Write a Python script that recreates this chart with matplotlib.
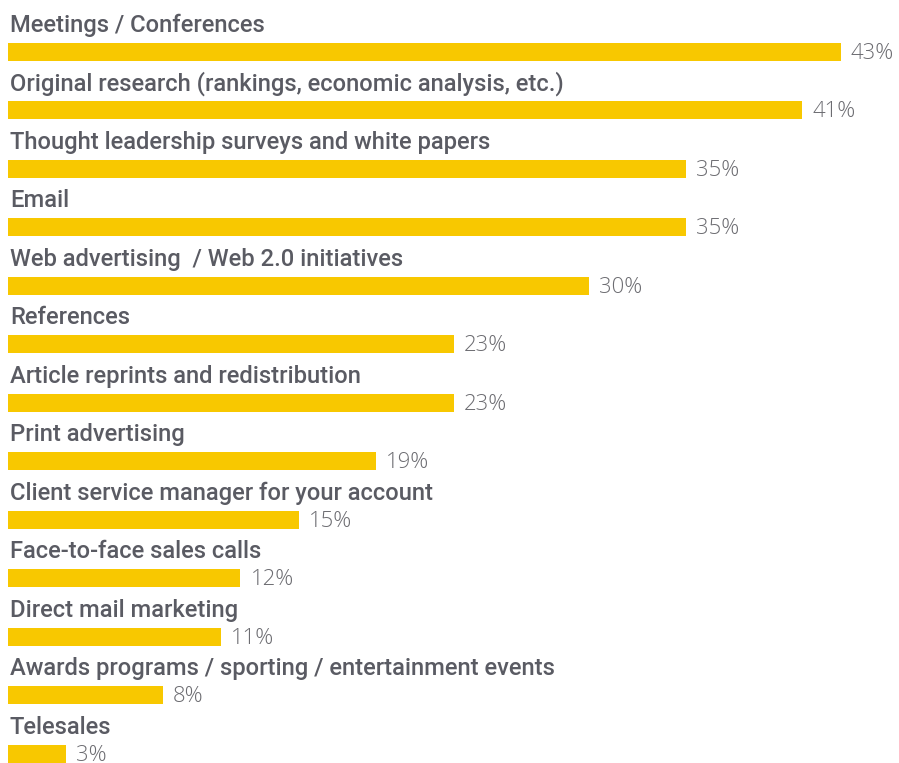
import matplotlib.pyplot as plt

categories = [
    "Meetings / Conferences",
    "Original research (rankings, economic analysis, etc.)",
    "Thought leadership surveys and white papers",
    "Email",
    "Web advertising  / Web 2.0 initiatives",
    "References",
    "Article reprints and redistribution",
    "Print advertising",
    "Client service manager for your account",
    "Face-to-face sales calls",
    "Direct mail marketing",
    "Awards programs / sporting / entertainment events",
    "Telesales",
]
values = [43, 41, 35, 35, 30, 23, 23, 19, 15, 12, 11, 8, 3]

BAR_COLOR = "#F8C800"
LABEL_COLOR = "#5A5B63"
VALUE_COLOR = "#6C6C71"

fig = plt.figure(figsize=(8.99, 7.63), dpi=100)
ax = fig.add_axes([0, 0, 1, 1])

# pixel geometry: 0% at x=8px, ~19.37px per percent; rows 58.46px apart
px_per_pct = 19.37
row_px = 58.46
ax.set_xlim(-8 / px_per_pct, (899 - 8) / px_per_pct)
ax.set_ylim((763 - 52) / row_px, -52 / row_px)
ax.axis("off")

ypos = list(range(len(categories)))
ax.barh(ypos, values, height=18 / row_px, color=BAR_COLOR, linewidth=0)

for y, cat, v in zip(ypos, categories, values):
    ax.text(0.1, y - 20 / row_px, cat, va="baseline", ha="left",
            fontsize=17.1, family="Roboto", weight="medium", color=LABEL_COLOR)
    ax.text(v + 10 / px_per_pct, y + 7 / row_px, f"{v}%", va="baseline", ha="left",
            fontsize=15.9, family="Open Sans", weight="light", color=VALUE_COLOR)

fig.savefig("out.png", dpi=100)
